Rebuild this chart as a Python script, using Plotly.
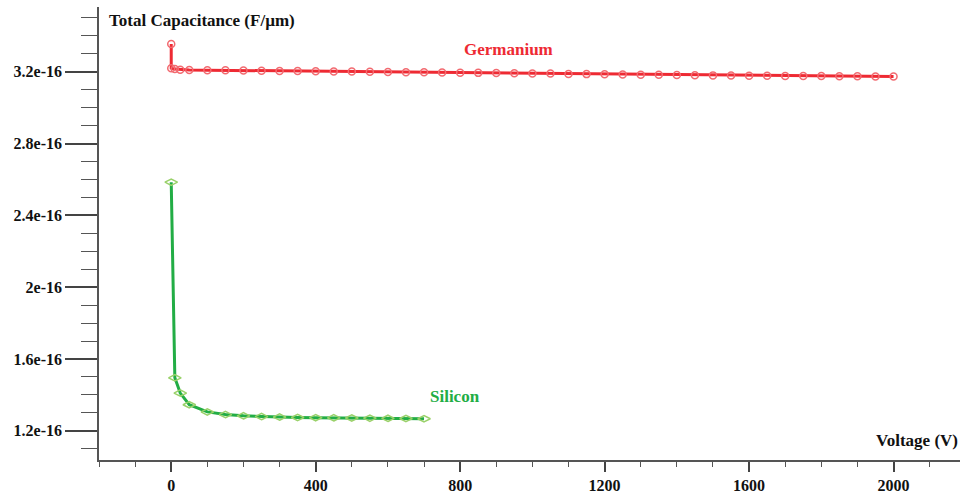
import plotly.graph_objects as go

# Germanium data (Voltage V, Total capacitance F/um)
ge_voltage = [0, 0, 10, 25, 50, 100, 150, 200, 250, 300, 350, 400, 450, 500, 550, 600,
              650, 700, 750, 800, 850, 900, 950, 1000, 1050, 1100, 1150, 1200, 1250,
              1300, 1350, 1400, 1450, 1500, 1550, 1600, 1650, 1700, 1750, 1800, 1850,
              1900, 1950, 2000]
ge_cap = [3.355e-16, 3.220e-16, 3.215e-16, 3.212e-16, 3.210e-16, 3.209e-16, 3.208e-16,
          3.207e-16, 3.206e-16, 3.205e-16, 3.204e-16, 3.203e-16, 3.202e-16, 3.201e-16,
          3.200e-16, 3.199e-16, 3.198e-16, 3.197e-16, 3.196e-16, 3.195e-16, 3.194e-16,
          3.193e-16, 3.192e-16, 3.191e-16, 3.190e-16, 3.188e-16, 3.187e-16, 3.186e-16,
          3.185e-16, 3.184e-16, 3.183e-16, 3.182e-16, 3.181e-16, 3.180e-16, 3.179e-16,
          3.178e-16, 3.178e-16, 3.177e-16, 3.176e-16, 3.176e-16, 3.175e-16, 3.175e-16,
          3.174e-16, 3.174e-16]

# Silicon data
si_voltage = [0, 10, 25, 50, 100, 150, 200, 250, 300, 350, 400, 450, 500, 550, 600, 650, 700]
si_cap = [2.585e-16, 1.495e-16, 1.410e-16, 1.345e-16, 1.305e-16, 1.290e-16, 1.283e-16,
          1.279e-16, 1.276e-16, 1.274e-16, 1.273e-16, 1.272e-16, 1.271e-16, 1.270e-16,
          1.269e-16, 1.268e-16, 1.267e-16]

x_tickvals = [0, 400, 800, 1200, 1600, 2000]
x_ticktext = ["0", "400", "800", "1200", "1600", "2000"]
y_tickvals = [1.2e-16, 1.6e-16, 2.0e-16, 2.4e-16, 2.8e-16, 3.2e-16]
y_ticktext = ["1.2e-16", "1.6e-16", "2e-16", "2.4e-16", "2.8e-16", "3.2e-16"]

FONT = "Liberation Serif"

fig = go.Figure()
fig.add_trace(go.Scatter(
    x=ge_voltage, y=ge_cap, mode="lines+markers", name="Germanium",
    line=dict(color="#ee2a33", width=3),
    marker=dict(symbol="circle-open", size=7, color="#f26a70", line=dict(width=1.5)),
))
fig.add_trace(go.Scatter(
    x=si_voltage, y=si_cap, mode="lines+markers", name="Silicon",
    line=dict(color="#22ad45", width=3),
    marker=dict(symbol="diamond-wide-open", size=9, color="#9ad16a", line=dict(width=1.5)),
))

fig.update_layout(
    width=960, height=495,
    margin=dict(l=99, r=0, t=7, b=35),
    paper_bgcolor="white", plot_bgcolor="white",
    showlegend=False,
    font=dict(family=FONT, size=16, color="#111"),
    xaxis=dict(
        range=[-200, 2184], showgrid=False, zeroline=False,
        showline=True, linecolor="#555", linewidth=1.5,
        ticks="outside", ticklen=10, tickwidth=1.5, tickcolor="#444",
        tickvals=x_tickvals, ticktext=x_ticktext,
        tickfont=dict(family=FONT, size=16, color="#111", weight="bold"),
        minor=dict(dtick=100, tick0=0, ticks="outside", ticklen=5, tickwidth=1.2, tickcolor="#555"),
    ),
    yaxis=dict(
        range=[1.037e-16, 3.561e-16], showgrid=False, zeroline=False,
        showline=True, linecolor="#555", linewidth=1.5,
        ticks="outside", ticklen=32, tickwidth=1.5, tickcolor="#444",
        tickvals=y_tickvals, ticktext=y_ticktext,
        tickfont=dict(family=FONT, size=16, color="#111", weight="bold"),
        minor=dict(dtick=0.1e-16, tick0=1.2e-16, ticks="outside", ticklen=16, tickwidth=1.2, tickcolor="#555"),
    ),
    annotations=[
        dict(text="<b>Total Capacitance (F/µm)</b>", xref="paper", yref="paper",
             x=0.0093, y=0.971, xanchor="left", yanchor="middle", showarrow=False,
             font=dict(family=FONT, size=17, color="#111")),
        dict(text="<b>Voltage (V)</b>", xref="paper", yref="paper",
             x=1.0, y=0.042, xanchor="right", yanchor="middle", showarrow=False,
             font=dict(family=FONT, size=17, color="#111")),
        dict(text="<b>Germanium</b>", xref="x", yref="y", x=935, y=3.326e-16,
             showarrow=False, font=dict(family=FONT, size=17, color="#ee2a33")),
        dict(text="<b>Silicon</b>", xref="x", yref="y", x=786, y=1.393e-16,
             showarrow=False, font=dict(family=FONT, size=17, color="#22ad45")),
    ],
)

fig.write_html("out.html")
